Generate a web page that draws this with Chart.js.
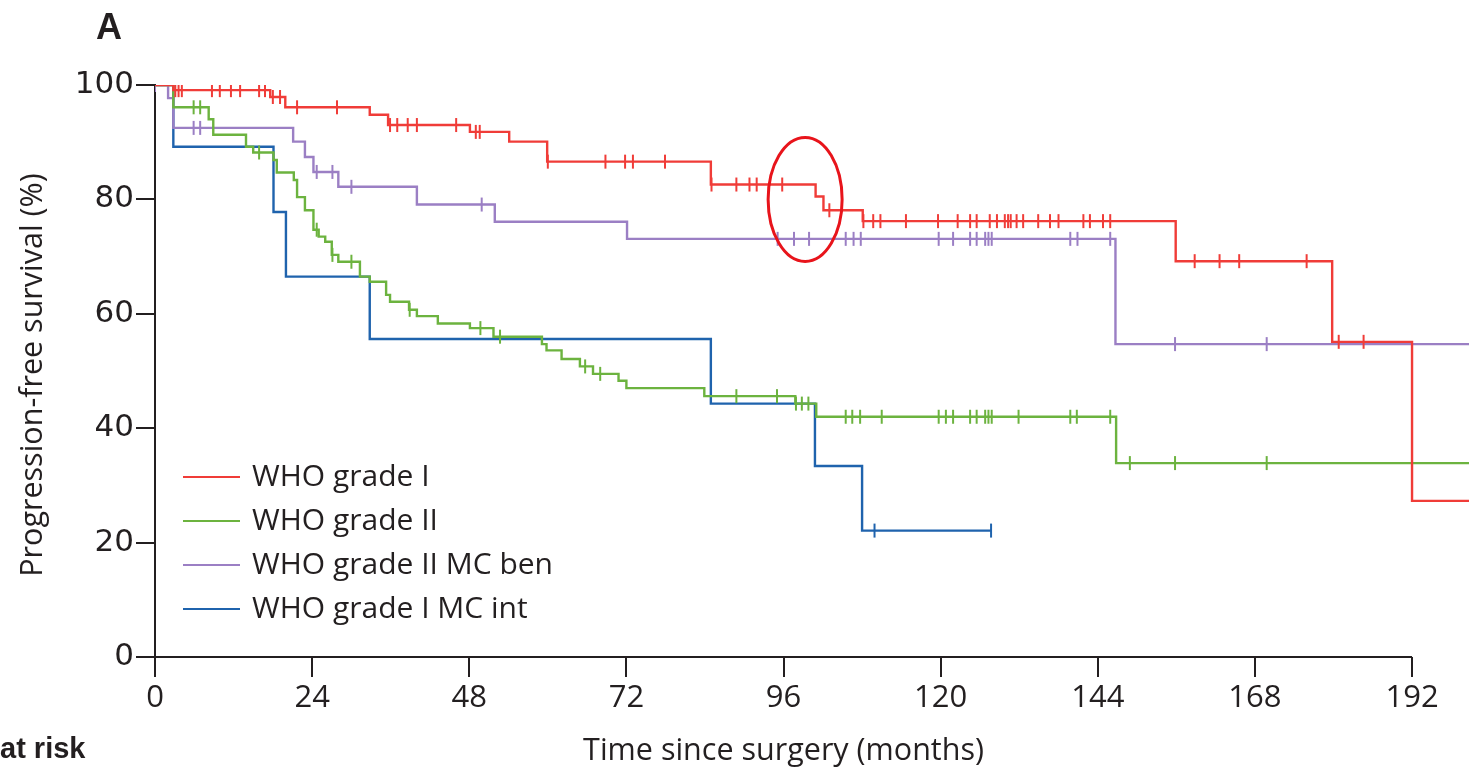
<!DOCTYPE html>
<html lang="en">
<head>
<meta charset="UTF-8">
<title>Progression-free survival by WHO grade</title>
<script src="https://cdn.jsdelivr.net/npm/chart.js"></script>
<style>
  body { margin: 0; background: #fff; }
  canvas { display: block; }
</style>
</head>
<body>
<canvas id="km" width="1469" height="775"></canvas>
<script>
// step curves: time (months) where the curve drops, and survival (%) after it
const redT = [0, 2.8, 17.6, 19.9, 32.8, 35.6, 48.1, 54.1, 59.9, 84.9, 100.9, 102.1, 108.1, 155.9, 179.8, 192.0, 200.7];
const redS = [100, 99.1, 97.9, 96.1, 94.8, 93.0, 91.8, 90.1, 86.6, 82.6, 80.5, 78.1, 76.2, 69.2, 55.1, 27.3, 27.3];

const greenT = [0, 2.8, 8.2, 8.9, 13.9, 15.0, 18.1, 18.6, 21.2, 21.7, 22.9, 24.2, 25.0, 26.0, 27.0, 28.0, 31.3, 32.8, 35.3, 35.9, 38.8, 40.0, 43.2, 48.1, 51.7, 59.1, 59.8, 62.1, 64.9, 66.9, 70.8, 72.0, 83.9, 97.8, 101.0, 146.8, 200.7];
const greenS = [100, 96.1, 94.0, 91.3, 89.2, 88.2, 86.9, 84.7, 83.4, 80.4, 78.1, 74.7, 73.5, 72.6, 70.3, 69.1, 66.5, 65.6, 63.3, 62.1, 60.7, 59.6, 58.3, 57.5, 56.0, 54.7, 53.6, 52.1, 50.8, 49.5, 48.3, 47.0, 45.6, 44.3, 42.0, 33.9, 33.9];

const purpleT = [0, 2.0, 2.8, 21.1, 22.9, 24.2, 28.0, 40.0, 51.9, 72.1, 146.7, 200.7];
const purpleS = [100, 97.7, 92.5, 90.1, 87.4, 84.8, 82.2, 79.1, 76.1, 73.1, 54.7, 54.7];

const blueT = [0, 2.8, 18.1, 20.0, 32.8, 84.9, 100.8, 108.0, 127.7];
const blueS = [100, 89.2, 77.8, 66.5, 55.6, 44.3, 33.4, 22.1, 22.1];

// censored observations (months)
const redCens = [3.1, 3.6, 4.1, 8.7, 9.9, 11.6, 13.0, 15.9, 16.8, 18.0, 19.1, 21.7, 27.8, 35.9, 37.0, 38.6, 40.0, 46.0, 49.0, 49.6, 60.0, 68.8, 71.8, 73.0, 77.9, 85.0, 88.8, 90.8, 91.9, 95.8, 103.0, 108.2, 109.7, 110.8, 114.7, 119.6, 122.6, 124.5, 125.5, 127.5, 128.6, 129.8, 130.3, 130.7, 131.6, 132.6, 134.9, 136.7, 138.0, 141.8, 142.8, 144.8, 145.9, 158.8, 162.6, 165.6, 175.9, 180.8, 184.6];
const greenCens = [5.9, 6.9, 15.9, 24.7, 27.1, 30.0, 38.9, 49.7, 52.7, 65.7, 68.0, 88.8, 95.0, 97.9, 98.8, 99.8, 105.5, 106.5, 107.7, 111.0, 119.7, 120.8, 121.9, 124.5, 125.5, 126.8, 127.3, 127.8, 131.9, 139.8, 140.8, 145.9, 148.9, 155.8, 169.8];
const purpleCens = [0, 5.9, 6.9, 24.7, 27.1, 30.0, 49.9, 95.1, 97.6, 99.9, 105.5, 106.7, 107.8, 119.7, 121.9, 124.5, 125.5, 126.8, 127.3, 127.8, 139.8, 140.9, 145.9, 155.8, 169.8];
const blueCens = [109.9, 127.7];

const groups = ["WHO grade I", "WHO grade II", "WHO grade II MC ben", "WHO grade I MC int"];
const colors = ["#f03c38", "#6cb33f", "#9b7fc4", "#1f63ad"];
const xTicks = [0, 24, 48, 72, 96, 120, 144, 168, 192];
const yTicks = [0, 20, 40, 60, 80, 100];

const INK = "#231f20";

function curve(T, S) {
  return T.map((t, i) => ({ x: t, y: S[i] }));
}

function stepAt(T, S, t) {
  let v = S[0];
  for (let i = 0; i < T.length; i++) {
    if (T[i] <= t) v = S[i];
  }
  return v;
}

function censors(T, S, times) {
  return times.map(t => ({ x: t, y: stepAt(T, S, t) }));
}

const series = [
  [redT, redS, redCens],
  [greenT, greenS, greenCens],
  [purpleT, purpleS, purpleCens],
  [blueT, blueS, blueCens]
];

const datasets = [];
series.forEach((s, i) => {
  datasets.push({
    label: groups[i],
    data: curve(s[0], s[1]),
    borderColor: colors[i],
    borderWidth: 2.4,
    stepped: "before",
    pointRadius: 0,
    fill: false,
    order: i
  });
});
series.forEach((s, i) => {
  datasets.push({
    label: groups[i] + " censored",
    data: censors(s[0], s[1], s[2]),
    showLine: false,
    borderColor: colors[i],
    backgroundColor: colors[i],
    pointStyle: "line",
    rotation: 90,
    pointRadius: 7,
    pointBorderWidth: 2,
    order: i
  });
});

const decorations = {
  id: "decorations",
  afterDraw(chart) {
    const ctx = chart.ctx;
    const x = chart.scales.x, y = chart.scales.y;
    const area = chart.chartArea;
    ctx.save();

    // x axis line stops at 192 months
    ctx.strokeStyle = INK;
    ctx.lineWidth = 2;
    ctx.beginPath();
    ctx.moveTo(x.getPixelForValue(0), area.bottom);
    ctx.lineTo(x.getPixelForValue(192), area.bottom);
    ctx.stroke();

    // legend
    ctx.font = "30px 'Open Sans'";
    ctx.textBaseline = "middle";
    ctx.textAlign = "left";
    groups.forEach((g, i) => {
      const ly = 477 + i * 44;
      ctx.strokeStyle = colors[i];
      ctx.lineWidth = 2;
      ctx.beginPath();
      ctx.moveTo(183, ly);
      ctx.lineTo(240, ly);
      ctx.stroke();
      ctx.fillStyle = INK;
      ctx.fillText(g, 252, ly);
    });

    // axis titles
    ctx.fillStyle = INK;
    ctx.font = "30.5px 'Open Sans'";
    ctx.textAlign = "center";
    ctx.fillText("Time since surgery (months)", (x.getPixelForValue(0) + x.getPixelForValue(192)) / 2, 751);
    ctx.save();
    ctx.translate(33, (area.top + area.bottom) / 2 + 4);
    ctx.rotate(-Math.PI / 2);
    ctx.fillText("Progression-free survival (%)", 0, 0);
    ctx.restore();

    // panel letter and at-risk caption
    ctx.font = "bold 36px 'Liberation Sans'";
    ctx.textAlign = "left";
    ctx.fillText("A", 96, 29);
    ctx.font = "bold 29px 'Liberation Sans'";
    ctx.fillText("at risk", 0, 750);

    // highlight ellipse
    ctx.strokeStyle = "#e8141b";
    ctx.lineWidth = 3;
    ctx.beginPath();
    ctx.ellipse(x.getPixelForValue(99.3), y.getPixelForValue(80), 37, 62, 0, 0, Math.PI * 2);
    ctx.stroke();

    ctx.restore();
  }
};

new Chart(document.getElementById("km"), {
  type: "line",
  data: { datasets: datasets },
  options: {
    responsive: false,
    animation: false,
    layout: { autoPadding: false, padding: { top: 85, right: 0, bottom: 0, left: 0 } },
    plugins: {
      legend: { display: false },
      tooltip: { enabled: false }
    },
    scales: {
      x: {
        type: "linear",
        min: 0,
        max: 200.7,
        afterBuildTicks: s => { s.ticks = xTicks.map(v => ({ value: v })); },
        afterFit: s => { s.height = 118; s.paddingLeft = 0; s.paddingRight = 0; },
        border: { display: false },
        grid: { drawOnChartArea: false, tickLength: 20, color: INK, lineWidth: 2 },
        ticks: { color: INK, font: { family: "'Open Sans'", size: 31 }, padding: 3, maxRotation: 0 }
      },
      y: {
        min: 0,
        max: 100,
        afterBuildTicks: s => { s.ticks = yTicks.map(v => ({ value: v })); },
        afterFit: s => { s.width = 155; s.paddingTop = 0; s.paddingBottom = 0; },
        border: { display: true, color: INK, width: 2 },
        grid: { drawOnChartArea: false, tickLength: 19, color: INK, lineWidth: 2 },
        ticks: { color: INK, font: { family: "'DejaVu Sans'", size: 31 }, padding: 2 }
      }
    }
  },
  plugins: [decorations]
});
</script>
</body>
</html>
